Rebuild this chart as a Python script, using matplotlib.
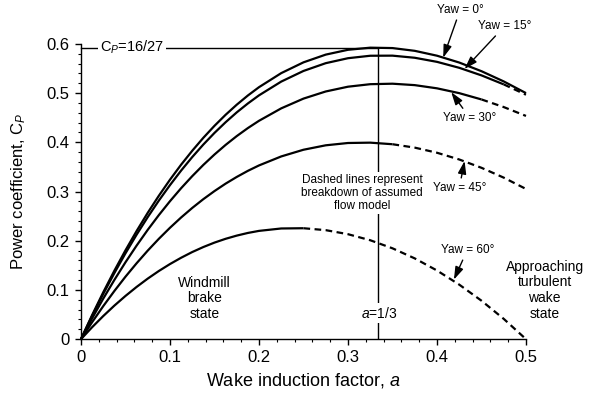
import matplotlib
matplotlib.use('Agg')
import matplotlib.pyplot as plt
from matplotlib.ticker import MultipleLocator

plt.rcParams['font.family'] = ['Liberation Sans', 'DejaVu Sans']
plt.rcParams['mathtext.fontset'] = 'custom'
plt.rcParams['mathtext.rm'] = 'Liberation Sans'
plt.rcParams['mathtext.it'] = 'Liberation Sans:italic'

# wake induction factor
a = [0, 0.0125, 0.025, 0.0375, 0.05, 0.0625, 0.075, 0.0875, 0.1, 0.1125, 0.125,
     0.1375, 0.15, 0.1625, 0.175, 0.1875, 0.2, 0.225, 0.25,
     0.275, 0.3, 0.325, 0.35, 0.375, 0.4, 0.425, 0.45, 0.475, 0.5]

# power coefficient
cp_yaw0 = [0, 0.0488, 0.0951, 0.1390, 0.1805, 0.2197, 0.2567, 0.2914, 0.324, 0.3545, 0.3828,
           0.4092, 0.4335, 0.4559, 0.4764, 0.4951, 0.512, 0.5406, 0.5625,
           0.5782, 0.588, 0.5923, 0.5915, 0.5859, 0.576, 0.5621, 0.5445, 0.5237, 0.5]
cp_yaw15 = [0, 0.0471, 0.0918, 0.1342, 0.1744, 0.2123, 0.2480, 0.2816, 0.3130, 0.3425, 0.3700,
            0.3955, 0.4191, 0.4408, 0.4608, 0.4789, 0.4954, 0.5234, 0.5450,
            0.5608, 0.5709, 0.5759, 0.5761, 0.5718, 0.5635, 0.5514, 0.5360, 0.5177, 0.4967]
cp_yaw30 = [0, 0.0422, 0.0823, 0.1203, 0.1562, 0.1901, 0.2221, 0.2521, 0.2803, 0.3067, 0.3312,
            0.3541, 0.3752, 0.3947, 0.4126, 0.4289, 0.4437, 0.4690, 0.4888,
            0.5033, 0.5130, 0.5181, 0.5191, 0.5162, 0.5097, 0.4999, 0.4871, 0.4716, 0.4536]
cp_yaw45 = [0, 0.0344, 0.0670, 0.0978, 0.1269, 0.1542, 0.1799, 0.2039, 0.2263, 0.2472, 0.2666,
            0.2845, 0.3009, 0.3160, 0.3296, 0.3420, 0.3530, 0.3713, 0.3849,
            0.3939, 0.3986, 0.3993, 0.3961, 0.3892, 0.3788, 0.3651, 0.3482, 0.3282, 0.3052]
cp_yaw60 = [0, 0.0242, 0.0469, 0.0681, 0.0878, 0.1061, 0.1230, 0.1385, 0.1526, 0.1654, 0.1770,
            0.1872, 0.1962, 0.2039, 0.2104, 0.2158, 0.2200, 0.2249, 0.2254,
            0.2215, 0.2133, 0.2010, 0.1846, 0.1641, 0.1395, 0.1108, 0.0781, 0.0412, 0]

yaw_curves = [cp_yaw0, cp_yaw15, cp_yaw30, cp_yaw45, cp_yaw60]
# a beyond which the curve is drawn dashed
solid_until = [0.5, 0.475, 0.45, 0.35, 0.25]

betz_cp = 16 / 27
a_opt = 1 / 3

fig = plt.figure(figsize=(5.91, 3.99), dpi=100)
ax = fig.add_axes([0.137, 0.150, 0.753, 0.740])

for cp, a_end in zip(yaw_curves, solid_until):
    n = len([x for x in a if x <= a_end + 1e-9])
    ax.plot(a[:n], cp[:n], color='black', lw=1.6, clip_on=False,
            solid_capstyle='butt', solid_joinstyle='round')
    if a_end < 0.5:
        ax.plot(a[n - 1:], cp[n - 1:], color='black', lw=1.6, ls=(0, (3, 2)), clip_on=False)

# Betz limit lines
ax.plot([0, a_opt], [betz_cp, betz_cp], color='black', lw=1.0, clip_on=False)
ax.plot([a_opt, a_opt], [0, betz_cp], color='black', lw=1.0)

white = dict(facecolor='white', edgecolor='none', pad=1.5)
ax.text(0.057, betz_cp, r'$\mathrm{C}_P$=16/27', fontsize=10.5, ha='center', va='center', bbox=white)
ax.text(0.335, 0.053, r'$a$=1/3', fontsize=10, ha='center', va='center', bbox=white)
ax.text(0.316, 0.297, 'Dashed lines represent\nbreakdown of assumed\nflow model',
        fontsize=8.5, ha='center', va='center', linespacing=1.1, bbox=white)
ax.text(0.139, 0.083, 'Windmill\nbrake\nstate', fontsize=10, ha='center', va='center',
        linespacing=1.15)
ax.text(0.521, 0.0996, 'Approaching\nturbulent\nwake\nstate', fontsize=10, ha='center',
        va='center', linespacing=1.15)

arrow = dict(arrowstyle='-|>,head_length=0.55,head_width=0.18', color='black', lw=1.0,
             mutation_scale=14, shrinkA=1, shrinkB=0)
labels = [('Yaw = 0°', (0.407, 0.572), (0.426, 0.669)),
          ('Yaw = 15°', (0.431, 0.549), (0.476, 0.636)),
          ('Yaw = 30°', (0.416, 0.502), (0.437, 0.449)),
          ('Yaw = 45°', (0.431, 0.362), (0.425, 0.307)),
          ('Yaw = 60°', (0.419, 0.121), (0.434, 0.181))]
for txt, tip, pos in labels:
    ax.annotate(txt, xy=tip, xytext=pos, fontsize=8.5, ha='center', va='center',
                arrowprops=arrow, annotation_clip=False)

ax.set_xlim(0, 0.5)
ax.set_ylim(0, 0.6)
ax.spines['top'].set_visible(False)
ax.spines['right'].set_visible(False)
ax.spines['left'].set_linewidth(1.0)
ax.spines['bottom'].set_linewidth(1.0)

ax.set_xticks([0, 0.1, 0.2, 0.3, 0.4, 0.5])
ax.set_xticklabels(['0', '0.1', '0.2', '0.3', '0.4', '0.5'])
ax.set_yticks([0, 0.1, 0.2, 0.3, 0.4, 0.5, 0.6])
ax.set_yticklabels(['0', '0.1', '0.2', '0.3', '0.4', '0.5', '0.6'])
ax.xaxis.set_minor_locator(MultipleLocator(0.02))
ax.yaxis.set_minor_locator(MultipleLocator(0.02))
ax.tick_params(which='major', length=4, width=1.0, labelsize=12, pad=4)
ax.tick_params(which='minor', length=2.5, width=0.8)

ax.set_xlabel('Wake induction factor, $a$', fontsize=13, labelpad=4)
ax.set_ylabel(r'Power coefficient, $\mathrm{C}_P$', fontsize=12)
ax.yaxis.set_label_coords(-0.12, 0.5)

fig.savefig('out.png', dpi=100)
